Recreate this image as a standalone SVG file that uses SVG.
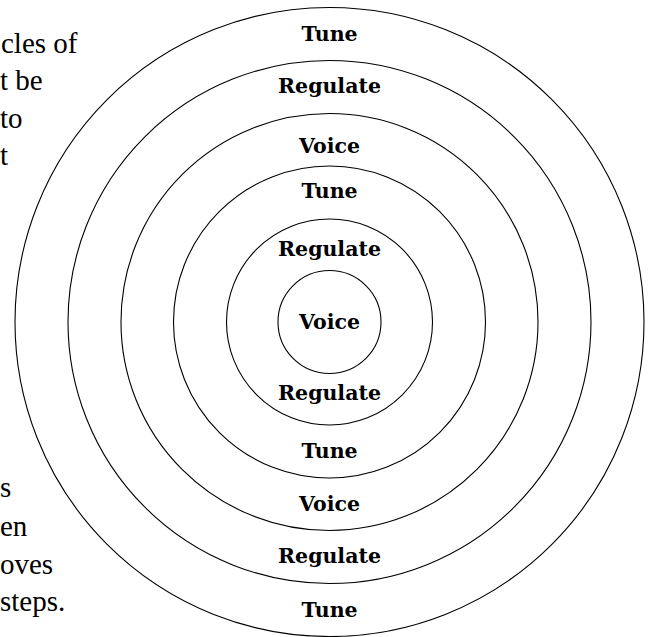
<svg xmlns="http://www.w3.org/2000/svg" width="652" height="637" viewBox="0 0 652 637">
  <style>
    .ring { fill: none; stroke: #000; stroke-width: 1.1; }
    .lbl { font-family: "DejaVu Serif", "Liberation Serif", serif; font-weight: bold; font-size: 20.5px; text-anchor: middle; fill: #000; }
    .para { font-family: "Liberation Serif", "Times New Roman", serif; font-size: 29px; fill: #000; }
  </style>
  <rect width="652" height="637" fill="#fff"/>
  <g id="paragraph">
    <text class="para" x="1" y="53">cles of</text>
    <text class="para" x="0" y="90">t be</text>
    <text class="para" x="0" y="128">to</text>
    <text class="para" x="0" y="165">t</text>
    <text class="para" x="0" y="497">s</text>
    <text class="para" x="0" y="536">en</text>
    <text class="para" x="0" y="574">oves</text>
    <text class="para" x="0" y="611">steps.</text>
  </g>
  <g id="rings">
    <circle id="ring6" class="ring" cx="329.5" cy="322" r="314.5"/>
    <circle id="ring5" class="ring" cx="329.5" cy="322" r="261.5"/>
    <circle id="ring4" class="ring" cx="329.5" cy="322" r="208.5"/>
    <circle id="ring3" class="ring" cx="329.5" cy="322" r="156"/>
    <circle id="ring2" class="ring" cx="329.5" cy="322" r="103"/>
    <circle id="ring1" class="ring" cx="329.5" cy="322" r="51.5"/>
  </g>
  <g id="labels">
    <text class="lbl" x="329.5" y="41">Tune</text>
    <text class="lbl" x="329.5" y="93">Regulate</text>
    <text class="lbl" x="329.5" y="153">Voice</text>
    <text class="lbl" x="329.5" y="198">Tune</text>
    <text class="lbl" x="329.5" y="256">Regulate</text>
    <text class="lbl" x="329.5" y="329">Voice</text>
    <text class="lbl" x="329.5" y="400">Regulate</text>
    <text class="lbl" x="329.5" y="458">Tune</text>
    <text class="lbl" x="329.5" y="511">Voice</text>
    <text class="lbl" x="329.5" y="563">Regulate</text>
    <text class="lbl" x="329.5" y="617">Tune</text>
  </g>
</svg>
